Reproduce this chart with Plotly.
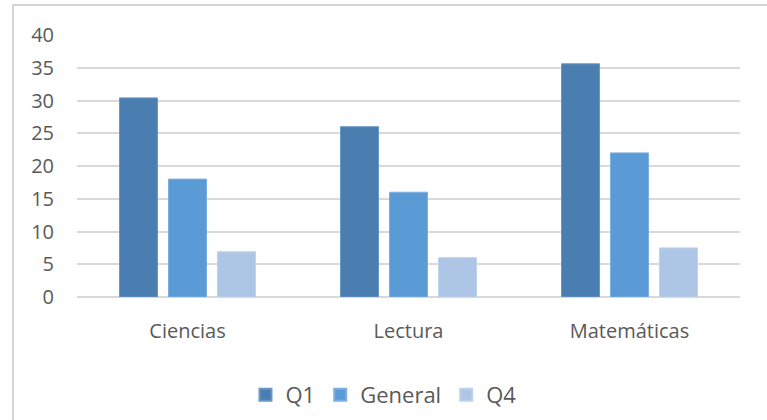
import plotly.graph_objects as go

categories = ["Ciencias", "Lectura", "Matemáticas"]
q1 = [30.4, 26.0, 35.6]
general = [18.0, 16.0, 22.0]
q4 = [6.9, 6.0, 7.5]
y_ticks = [0, 5, 10, 15, 20, 25, 30, 35, 40]

series = [
    ("Q1", q1, "#4a7eb0", "#6a98c4"),
    ("General", general, "#5b9bd5", "#7cb0e0"),
    ("Q4", q4, "#adc6e5", "#bdd2ec"),
]

fig = go.Figure()
for name, vals, col, lc in series:
    fig.add_trace(go.Bar(
        x=categories, y=vals, name=name,
        marker=dict(color=col, line=dict(color=lc, width=1)),
    ))

L, R, T, B = 77, 27, 35, 123
W, H = 767, 420
pw, ph = W - L - R, H - T - B

def px_x(x):
    return (x - L) / pw

def px_y(y):
    return (H - B - y) / ph

fig.update_layout(
    width=W, height=H,
    margin=dict(l=L, r=R, t=T, b=B, autoexpand=False),
    paper_bgcolor="white", plot_bgcolor="white",
    barmode="group", bargap=0.335, bargroupgap=0.224,
    font=dict(family="Open Sans, Liberation Sans, sans-serif", color="#595959", size=20),
    showlegend=True,
    legend=dict(orientation="h", x=0.5, xanchor="center", xref="container",
                y=(H - 395) / H, yanchor="middle", yref="container",
                font=dict(size=22, color="#595959"), traceorder="normal",
                itemwidth=30, itemsizing="constant"),
    xaxis=dict(showgrid=False, showline=False, ticks="", ticklabelstandoff=20),
    yaxis=dict(range=[0, 40], tickvals=y_ticks, showgrid=True, gridcolor="#d9d9d9", gridwidth=1.5,
               zeroline=True, zerolinecolor="#d9d9d9", zerolinewidth=1.5,
               showline=False, ticks="", ticklabelstandoff=22),
    shapes=[dict(type="rect", xref="paper", yref="paper",
                 x0=px_x(13), x1=px_x(800), y0=px_y(460), y1=px_y(5),
                 line=dict(color="#d4d4d4", width=2), layer="below")],
)

fig.write_html("out.html")
